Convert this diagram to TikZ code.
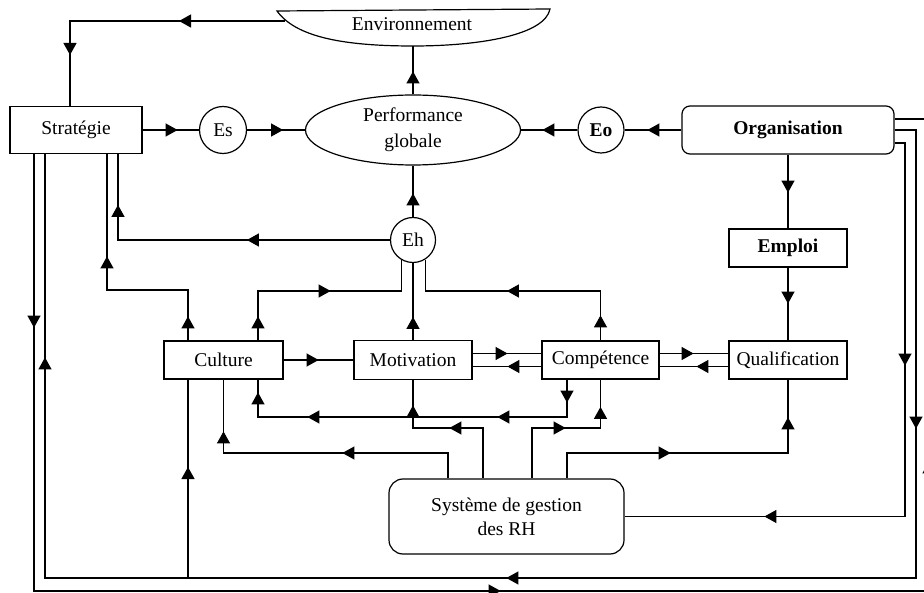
\documentclass[tikz,border=0pt]{standalone}
\usepackage{fontspec}
\setmainfont{Liberation Serif}
\usetikzlibrary{arrows.meta,shapes.geometric,decorations.markings}
\begin{document}
\begin{tikzpicture}[x=1pt,y=-1pt,
  line width=1.2pt,
  txt/.style={font=\fontsize{19.5}{22}\selectfont},
  bold/.style={font=\fontsize{19.5}{22}\selectfont\bfseries},
  every node/.style={txt, inner sep=0pt},
  box/.style={draw, rectangle, line width=1.2pt},
  rbox/.style={box, rounded corners=8pt},
  ring/.style={draw, circle, line width=1.2pt},
  tipmark/.style={postaction={decorate,decoration={markings,
      mark=at position #1 with {\arrow{Triangle[length=12pt,width=13pt]}}}}},
]
\useasboundingbox (0,0) rectangle (924,593);

% ---- nodes ----
\node (env) at (412,24) {Environnement};
\draw (277,11) -- (550,9) .. controls (545,35) and (480,46) .. (413,46)
      .. controls (340,46) and (295,36) .. (277,11) -- cycle;
\coordinate (envL) at (285,21);
\coordinate (envB) at (413,46);

\node[box, minimum width=132pt, minimum height=47pt] (strat) at (76,130) {Stratégie};
\node[ring, minimum size=47pt] (es) at (223,130) {Es};
\node[draw, ellipse, minimum width=215pt, minimum height=70pt, align=center,
      font=\fontsize{19.5}{26}\selectfont] (perf) at (413,130) {Performance\\globale};
\node[ring, minimum size=46pt, bold] (eo) at (601,130) {Eo};
\node[rbox, minimum width=212pt, minimum height=48pt, bold] (org) at (788,130) {Organisation};
\node[box, minimum width=118pt, minimum height=38pt, bold] (emp) at (788,248) {Emploi};
\node[ring, minimum size=45pt] (eh) at (413,240) {Eh};

\node[box, minimum width=119pt, minimum height=38pt] (cult) at (223.5,360) {Culture};
\node[box, minimum width=118pt, minimum height=39pt] (motiv) at (413,360) {Motivation};
\node[box, minimum width=117pt, minimum height=38pt] (comp) at (600.5,360) {Compétence};
\node[box, minimum width=118pt, minimum height=38pt] (qual) at (788,360) {Qualification};

\node[rbox, rounded corners=14pt, minimum width=235pt, minimum height=75pt, align=center,
      font=\fontsize{19.5}{24}\selectfont] (sgrh) at (506.5,516.5) {Système de gestion\\des RH};

% ---- top level ----
\draw[tipmark=106pt, tipmark=249pt] (envL) -- (70,21) -- ([xshift=-6pt]strat.north);
\draw[tipmark=35pt] (strat) -- (es);
\draw[tipmark=36pt] (es) -- (perf);
\draw[tipmark=23pt] (perf) -- (envB);
\draw[tipmark=34pt] (org) -- (eo);
\draw[tipmark=35pt] (eo) -- (perf);
\draw[tipmark=38pt] (org) -- (emp);
\draw[tipmark=36pt] (emp) -- (qual);
\draw[tipmark=23.5pt] (eh) -- (perf);

% ---- human factors towards Eh and strategy ----
\draw[tipmark=143pt, tipmark=307pt] (eh.west) -- (118,240) -- ([xshift=42pt]strat.south);
\draw[tipmark=24pt, tipmark=165pt] ([xshift=-35.5pt]cult.north) -- (188,290) -- (107,290)
      -- ([xshift=31pt]strat.south);
\draw[tipmark=24pt, tipmark=122pt] ([xshift=34.5pt]cult.north) -- (258,291) -| (eh.-120);
\draw[tipmark=23pt] (motiv) -- (eh);
\draw[tipmark=25pt, tipmark=143pt] (comp.north) -- (600.5,291) -| (eh.-58);

% ---- links between the four boxes ----
\draw[tipmark=35pt] (cult) -- (motiv);
\draw[tipmark=35pt] ([yshift=6.5pt]motiv.east) -- ([yshift=6.5pt]comp.west);
\draw[tipmark=34pt] ([yshift=-6.5pt]comp.west) -- ([yshift=-6.5pt]motiv.east);
\draw[tipmark=34pt] ([yshift=6.5pt]comp.east) -- ([yshift=6.5pt]qual.west);
\draw[tipmark=32pt] ([yshift=-6.5pt]qual.west) -- ([yshift=-6.5pt]comp.east);
\draw[tipmark=23pt, tipmark=107pt, tipmark=297pt, tipmark=371pt]
      ([xshift=-33.5pt]comp.south) -- (567,417) -- (258,417) -- ([xshift=34.5pt]cult.south);

% ---- HR management system ----
\draw[tipmark=84pt, tipmark=143pt] ([xshift=-23.5pt]sgrh.north) -- (483,428) -| (motiv.south);
\draw[tipmark=84pt, tipmark=140pt] ([xshift=25.5pt]sgrh.north) -- (532,428) -| (comp.south);
\draw[tipmark=131pt, tipmark=271.5pt] ([xshift=-58.5pt]sgrh.north) -- (448,453) -| (cult.south);
\draw[tipmark=129pt, tipmark=282pt] ([xshift=60.5pt]sgrh.north) -- (567,453) -| (qual.south);

% ---- outer loops ----
\draw[tipmark=233pt, tipmark=524.5pt] ([yshift=-13pt]org.east) -- (905,143) |- (sgrh.east);
\draw[tipmark=320pt, tipmark=879pt, tipmark=1561pt]
      (org.east) -- (916,130) -- (916,578) -- (45,578) -- ([xshift=-31pt]strat.south);
\draw[tipmark=111pt] (188,578) -- ([xshift=-35.5pt]cult.south);
\draw[tipmark=173.5pt, tipmark=903.5pt, tipmark=1461.5pt]
      ([xshift=-42pt]strat.south) -- (34,591) -- (929,591) -- (929,119) -- ([yshift=11pt]org.east);
\end{tikzpicture}
\end{document}
